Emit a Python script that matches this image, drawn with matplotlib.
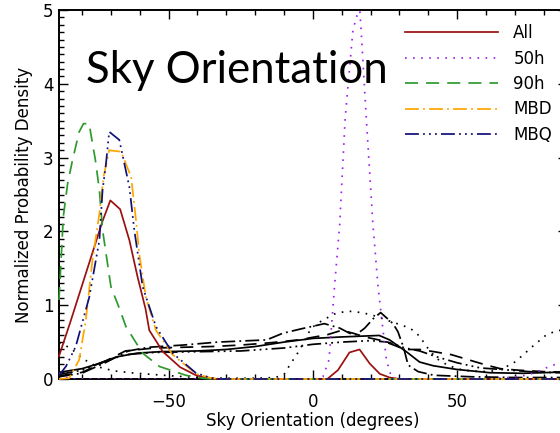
import matplotlib
matplotlib.use("Agg")
import matplotlib.pyplot as plt
from matplotlib.ticker import MultipleLocator, FixedLocator

plt.rcParams['font.family'] = ['DejaVu Sans']
plt.rcParams['lines.scale_dashes'] = False

# ---- posterior densities (colored) ----
all_x = [-88, -84, -80, -76, -73, -70.2, -66.8, -63.6, -60.8, -58, -56.7, -52, -46, -40.5, -36, -33,
         5, 8.7, 12.7, 16.2, 19.7, 23.2, 26.6, 30, 88]
all_y = [0.31, 0.78, 1.27, 1.76, 2.13, 2.42, 2.30, 1.88, 1.39, 0.95, 0.66, 0.37, 0.16, 0.05, 0.01, 0,
         0, 0.12, 0.36, 0.40, 0.21, 0.07, 0.02, 0, 0]

h50_x = [-88, -86, -84, 2, 3.5, 5.6, 7.5, 9.3, 11.2, 13.9, 16.2, 16.8, 18.5, 20.8, 22.6, 25.5, 27.2, 29,
         60, 68, 74, 78, 82, 85, 88]
h50_y = [0.08, 0.03, 0, 0, 0.03, 0.26, 1.25, 2.09, 3.53, 4.73, 5.05, 4.68, 3.55, 2.11, 1.25, 0.26, 0.03, 0,
         0, 0.02, 0.05, 0.10, 0.17, 0.21, 0.24]

h90_x = [-88, -86.5, -85, -83.3, -81, -79.5, -77.5, -77, -75.4, -74, -72.9, -70, -67, -64.8, -59, -53.2,
         -44, -38, -35, 88]
h90_y = [1.07, 2.20, 2.65, 2.97, 3.35, 3.46, 3.46, 3.33, 2.97, 2.56, 2.02, 1.25, 0.95, 0.71, 0.35, 0.17,
         0.05, 0.01, 0, 0]

mbd_x = [-88, -84.5, -81, -78.7, -76.4, -74, -72.5, -70.6, -66.5, -63, -61.3, -60.2, -57.9, -54.4, -48.6,
         -40.5, -35, -32, 88]
mbd_y = [0, 0.01, 0.26, 0.80, 1.61, 2.24, 2.75, 3.10, 3.08, 2.74, 2.15, 1.70, 1.11, 0.66, 0.33,
         0.07, 0.01, 0, 0]

mbq_x = [-88, -85.6, -82.2, -77.5, -74, -72.9, -71.7, -70.6, -67.1, -63.6, -61.9, -59, -54.4, -48.6,
         -40.5, -35, -32, 88]
mbq_y = [0.05, 0.17, 0.44, 1.11, 1.88, 2.56, 2.92, 3.35, 3.24, 2.60, 2.02, 1.25, 0.71, 0.35,
         0.08, 0.01, 0, 0]

# ---- reference densities (black) ----
ref_solid_x = [-88, -80, -75, -68, -61, -53, -40, -30, -20, -10, 0, 10, 23, 26.6, 32.4, 37, 41.7, 49.8,
               61.4, 72.9, 83.3, 88]
ref_solid_y = [0.09, 0.14, 0.20, 0.30, 0.35, 0.37, 0.38, 0.40, 0.44, 0.50, 0.55, 0.57, 0.59, 0.53, 0.37,
               0.23, 0.18, 0.13, 0.085, 0.077, 0.09, 0.10]

ref_dot_x = [-88, -84, -80, -75, -69, -62, -55, -48, -40, -30, -20, -13, -10, -8, -4.6, -0.6, 3.5, 8,
             12.2, 16.8, 20.3, 25.5, 30.7, 33.6, 36, 37.5, 39.4, 42.8, 47, 52, 58, 63, 66, 69.4, 73,
             76.4, 81, 85, 88]
ref_dot_y = [0.49, 0.42, 0.28, 0.17, 0.11, 0.08, 0.06, 0.04, 0.02, 0.01, 0.01, 0.02, 0.06, 0.19, 0.39,
             0.69, 0.80, 0.89, 0.92, 0.90, 0.87, 0.80, 0.73, 0.69, 0.62, 0.55, 0.44, 0.28, 0.18, 0.12,
             0.10, 0.11, 0.15, 0.21, 0.33, 0.45, 0.60, 0.66, 0.65]

ref_dash_x = [-88, -80, -74, -65, -55, -45, -35, -25, -15, -5, 5, 10, 14, 18, 24, 28, 32, 37, 42, 48,
              54, 60, 65, 71, 80, 88]
ref_dash_y = [0.04, 0.09, 0.20, 0.38, 0.42, 0.43, 0.44, 0.46, 0.49, 0.53, 0.60, 0.66, 0.62, 0.57, 0.52,
              0.46, 0.40, 0.40, 0.37, 0.33, 0.26, 0.19, 0.14, 0.12, 0.10, 0.09]

ref_dashdot_x = [-88, -80, -72, -64, -57, -45, -33, -16, -10.4, -4, 4, 9.3, 12.7, 15, 18, 21, 23.5,
                 27.8, 29.5, 31.5, 33, 36.5, 42, 55, 70, 88]
ref_dashdot_y = [0.03, 0.08, 0.22, 0.38, 0.43, 0.46, 0.50, 0.53, 0.62, 0.68, 0.75, 0.69, 0.62, 0.60,
                 0.69, 0.82, 0.90, 0.75, 0.64, 0.42, 0.19, 0.10, 0.05, 0.03, 0.02, 0.02]

ref_dash3_x = [-88, -80, -72, -65, -55, -40, -25, -10, 0, 10, 20, 26, 32, 37, 43, 50, 58, 65, 75, 88]
ref_dash3_y = [0.06, 0.12, 0.24, 0.33, 0.36, 0.37, 0.38, 0.42, 0.47, 0.50, 0.52, 0.50, 0.42, 0.38, 0.30,
               0.22, 0.15, 0.13, 0.10, 0.08]

labels = ['All', '50h', '90h', 'MBD', 'MBQ']
colors = ['#9b1010', '#a020f0', '#2e9a2e', '#ffa500', '#10107a']

# line styles in points (dashes not scaled by width)
ls_solid = '-'
ls_dot = (0, (1.2, 4.6))
ls_dash = (0, (9.4, 5.8))
ls_dashdot = (0, (10, 3, 1.3, 3))
ls_dash3 = (0, (10, 3, 1.3, 3, 1.3, 3, 1.3, 3))
styles = [ls_solid, ls_dot, ls_dash, ls_dashdot, ls_dash3]

W, H = 560, 433
fig = plt.figure(figsize=(W / 100, H / 100), dpi=100)
ax = fig.add_axes([59 / W, (H - 379) / H, (566.7 - 59) / W, (379 - 10) / H])

lw = 1.25
black_sets = [(ref_solid_x, ref_solid_y), (ref_dot_x, ref_dot_y), (ref_dash_x, ref_dash_y),
              (ref_dashdot_x, ref_dashdot_y), (ref_dash3_x, ref_dash3_y)]
for (bx, by), st in zip(black_sets, styles):
    ax.plot(bx, by, color='black', linestyle=st, lw=lw, zorder=3)

color_sets = [(all_x, all_y), (h50_x, h50_y), (h90_x, h90_y), (mbd_x, mbd_y), (mbq_x, mbq_y)]
handles = []
for (cx, cy), st, c, lab in zip(color_sets, styles, colors, labels):
    ln, = ax.plot(cx, cy, color=c, linestyle=st, lw=lw, label=lab, zorder=4,
                  clip_on=(lab == '50h'))
    handles.append(ln)

ax.set_xlim(-88, 88)
ax.set_ylim(0, 5)

ax.xaxis.set_major_locator(FixedLocator([-50, 0, 50]))
ax.xaxis.set_minor_locator(MultipleLocator(10))
ax.yaxis.set_major_locator(MultipleLocator(1))
ax.yaxis.set_minor_locator(MultipleLocator(0.1))
ax.tick_params(which='both', direction='in', top=True, right=True, width=1.0, labelsize=12)
ax.tick_params(which='major', length=6.5)
ax.tick_params(which='minor', length=3.4)
ax.tick_params(axis='x', which='major', pad=10)
ax.tick_params(axis='y', which='major', pad=4)
for sp in ax.spines.values():
    sp.set_linewidth(1.4)
    sp.set_zorder(3.5)

ax.set_xlabel('Sky Orientation (degrees)', fontsize=12, labelpad=1)
ax.set_ylabel('Normalized Probability Density', fontsize=12, labelpad=7)

leg = ax.legend(handles=handles, loc='upper left', bbox_to_anchor=(405 / W, 1 - 24 / H),
                bbox_transform=fig.transFigure, frameon=False, fontsize=12,
                handlelength=5.6, handletextpad=0.9, labelspacing=0.45,
                borderpad=0, borderaxespad=0)

fig.text(86 / W, 1 - 83 / H, 'Sky Orientation', fontsize=31.5, family=['Lato', 'DejaVu Sans'],
         ha='left', va='baseline', color='black')

fig.savefig('out.png', dpi=100)
